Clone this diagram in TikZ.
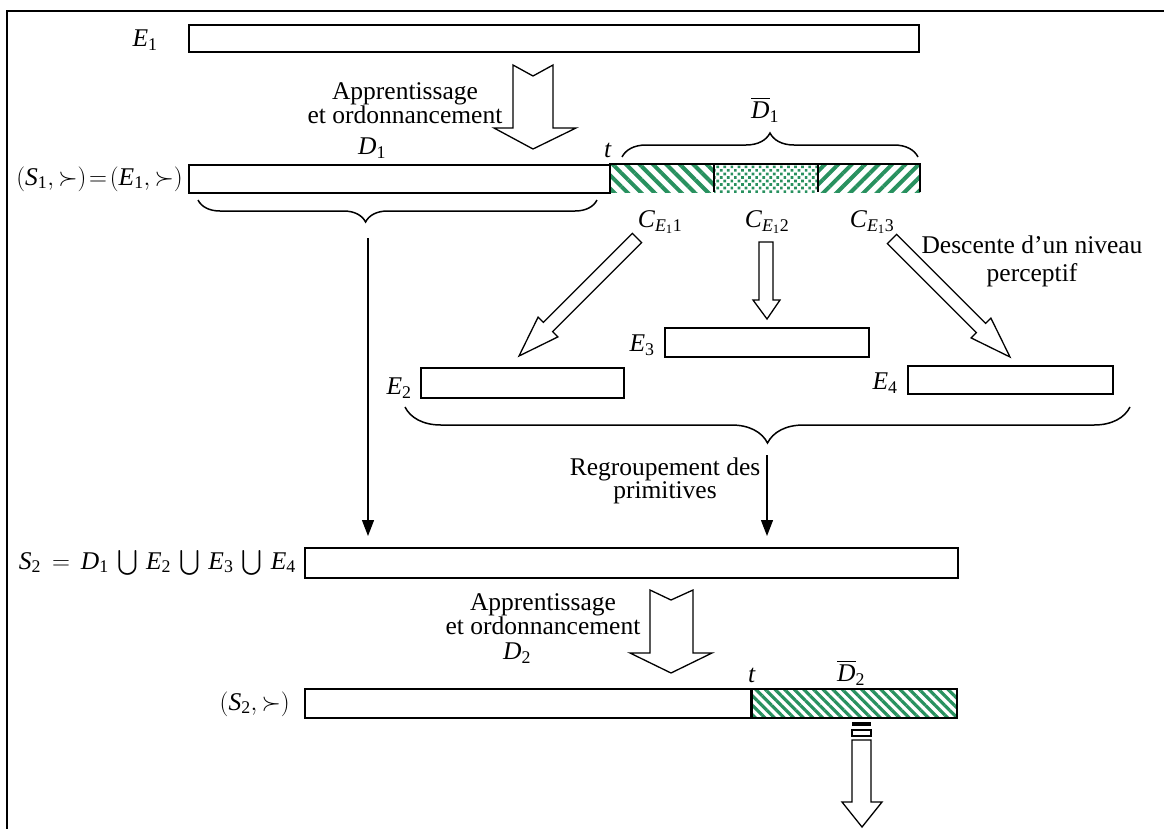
\documentclass[tikz,border=0pt]{standalone}
\usepackage{amsmath}
\usepackage{fontspec}
\setmainfont{Liberation Serif}
\usetikzlibrary{decorations.pathreplacing,patterns.meta,arrows.meta}
\definecolor{hgreen}{RGB}{40,145,95}
\newcommand\iv[1]{\text{\textit{#1}}}
\newcommand\sbt[1]{_{\text{#1}}}
\begin{document}
\begin{tikzpicture}[x=1pt,y=-1pt,
  box/.style={draw, line width=1.6pt, inner sep=0pt, anchor=north west},
  lbl/.style={inner sep=0pt, font=\fontsize{25.5}{23}\selectfont},
  blockarrow/.style={draw, line width=1.3pt, fill=white, line join=miter},
  hatchA/.style={pattern={Lines[angle=-45,distance=9.5pt,line width=4pt]}, pattern color=hgreen},
  hatchB/.style={pattern={Lines[angle=45,distance=9.5pt,line width=4pt]}, pattern color=hgreen},
  hatchC/.style={pattern={Lines[angle=-45,distance=6.8pt,line width=3.2pt]}, pattern color=hgreen},
  dotsP/.style={pattern={Dots[radius=1.9pt,distance=5pt,angle=45]}, pattern color=hgreen},
  brc/.style={decorate, line width=1.5pt},
  thinarrow/.style={line width=1.3pt, -{Triangle[width=12pt,length=16pt]}}
]
\useasboundingbox (0,0) rectangle (1164,828);
\clip (0,0) rectangle (1164,828);
% frame (only top and left visible)
\draw[line width=2pt] (7,860) -- (7,11) -- (1190,11);

% ---- row E1
\node[lbl] (E1lab) at (145,40) {$\iv{E}\sbt{1}$};
\node[box, minimum width=730pt, minimum height=27pt] (E1box) at (188,24) {};

% big arrow 1
\draw[blockarrow] (513,65) -- (533,76) -- (553,65) -- (553,128) -- (576,128) -- (533,149) -- (494,128) -- (513,128) -- cycle;
\node[lbl, align=center] (app1) at (405,103) {Apprentissage\\et ordonnancement};

% ---- row S1
\node[lbl] (D1lab) at (372,148) {$\iv{D}\sbt{1}$};
\node[lbl] (t1) at (608,150) {$\iv{t}$};
\node[lbl, anchor=east] (S1lab) at (183,179) {$(\iv{S}\sbt{1},\succ)\!=\!(\iv{E}\sbt{1},\succ)$};
\fill[hatchA] (609,164) rectangle (714,192);
\fill[dotsP] (714,164) rectangle (818,192);
\fill[hatchB] (818,164) rectangle (920,192);
\node[box, minimum width=421pt, minimum height=28pt] (D1box) at (188,164) {};
\draw[line width=1.6pt] (609,164) -- (920,164) -- (920,192);
\draw[line width=1.6pt] (714,164) -- (714,192) (818,164) -- (818,192);
\node[lbl] (Db1lab) at (765,110) {$\overline{\iv{D}}\sbt{1}$};

% braces
\draw[brc, decoration={brace, amplitude=24pt}] (622,157) -- (918,157);
\draw[brc, decoration={brace, amplitude=22pt, aspect=0.42, mirror}] (198,200) -- (597,200);

% C labels
\node[lbl] (C1) at (660,222) {$\iv{C}_{\iv{E}\sbt{1}\text{1}}$};
\node[lbl] (C2) at (767,222) {$\iv{C}_{\iv{E}\sbt{1}\text{2}}$};
\node[lbl] (C3) at (872,222) {$\iv{C}_{\iv{E}\sbt{1}\text{3}}$};

% descent arrows
\draw[blockarrow] (632.4,233.4) -- (641.6,242.6) -- (552.6,331.6) -- (557.9,336.9) -- (519,356) -- (538.1,317.1) -- (543.4,322.4) -- cycle;
\draw[blockarrow] (759,242) -- (773,242) -- (773,300) -- (780,300) -- (767,319) -- (753,300) -- (759,300) -- cycle;
\draw[blockarrow] (887.4,243.6) -- (896.6,234.4) -- (985.6,323.4) -- (990.9,318.1) -- (1010,357) -- (971.1,337.9) -- (976.4,332.6) -- cycle;
\node[lbl, align=center, font=\fontsize{25.5}{28}\selectfont] (desc) at (1032,261) {Descente d’un niveau\\perceptif};

% ---- row E2 E3 E4
\node[lbl] (E3lab) at (642,345) {$\iv{E}\sbt{3}$};
\node[box, minimum width=204pt, minimum height=29pt] (E3box) at (664,327) {};
\node[lbl] (E2lab) at (399,388) {$\iv{E}\sbt{2}$};
\node[box, minimum width=203pt, minimum height=30pt] (E2box) at (420,367) {};
\node[lbl] (E4lab) at (885,383) {$\iv{E}\sbt{4}$};
\node[box, minimum width=205pt, minimum height=28pt] (E4box) at (907,365) {};
\draw[brc, decoration={brace, amplitude=36pt, mirror}] (405,407) -- (1130,407);
\node[lbl, align=center, font=\fontsize{25.5}{22}\selectfont] (regr) at (665,481) {Regroupement des\\primitives};

% ---- row S2
\node[lbl, anchor=east] (S2lab) at (296,563) {$\iv{S}\sbt{2}\,=\,\iv{D}\sbt{1}\,\bigcup\,\iv{E}\sbt{2}\,\bigcup\,\iv{E}\sbt{3}\,\bigcup\,\iv{E}\sbt{4}$};
\node[box, minimum width=653pt, minimum height=30pt] (S2box) at (304,547) {};
\coordinate (b1) at (368,238);
\coordinate (b1e) at (368,536);
\coordinate (b2) at (767,455);
\coordinate (b2e) at (767,536);
\draw[thinarrow] (b1) -- (b1e);
\draw[thinarrow] (b2) -- (b2e);

% big arrow 2
\draw[blockarrow] (650,590) -- (671,600) -- (693,590) -- (693,653) -- (712,653) -- (671,673) -- (630,653) -- (650,653) -- cycle;
\node[lbl, align=center] (app2) at (543,614) {Apprentissage\\et ordonnancement};

% ---- row (S2,>)
\node[lbl] (D2lab) at (517,653) {$\iv{D}\sbt{2}$};
\node[lbl] (t2) at (752,675) {$\iv{t}$};
\node[lbl] (Db2lab) at (851,673) {$\overline{\iv{D}}\sbt{2}$};
\node[lbl, anchor=east] (S2slab) at (290,704) {$(\iv{S}\sbt{2},\succ)$};
\fill[hatchC] (751,688) rectangle (956,717);
\node[box, minimum width=447pt, minimum height=29pt] (D2box) at (304,688) {};
\node[box, minimum width=205pt, minimum height=29pt] (Db2box) at (751,688) {};
\draw[line width=3pt] (751,688) -- (751,717);

% bottom striped arrow
\fill (852,722) rectangle (871,726);
\draw[line width=1.3pt] (852,730) rectangle (871,736);
\draw[blockarrow] (852,740) -- (871,740) -- (871,802) -- (882,802) -- (862,827) -- (842,802) -- (852,802) -- cycle;
\end{tikzpicture}
\end{document}
